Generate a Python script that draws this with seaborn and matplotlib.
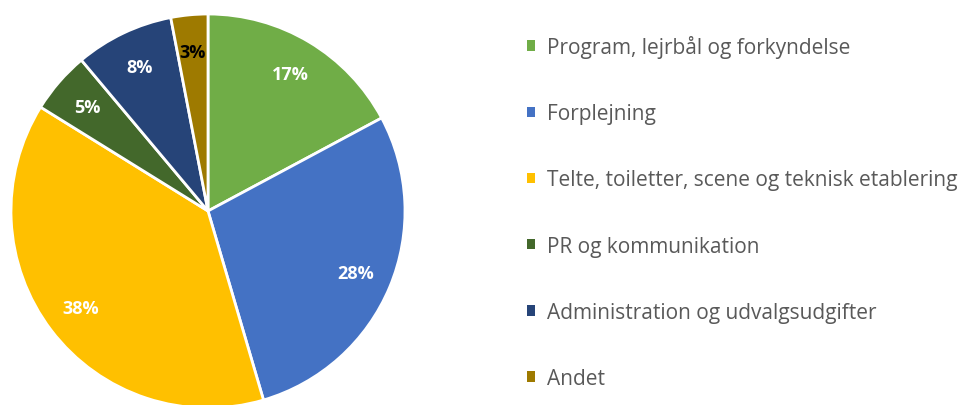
import matplotlib
matplotlib.use("Agg")
from matplotlib import pyplot as plt
from matplotlib.patches import Patch
import seaborn as sns

# data
categories = ["Program, lejrbål og forkyndelse", "Forplejning",
              "Telte, toiletter, scene og teknisk etablering",
              "PR og kommunikation", "Administration og udvalgsudgifter", "Andet"]
shares = [17, 28, 38, 5, 8, 3]
colors = ["#70AD47", "#4472C4", "#FFC000", "#43682B", "#264478", "#9E7A00"]
label_colors = ["white", "white", "white", "white", "white", "black"]

sns.set_theme(style="white")
plt.rcParams['font.family'] = ['Open Sans', 'DejaVu Sans']

fig = plt.figure(figsize=(9.7, 4.06), dpi=100)
ax = fig.add_axes([11 / 970, -3 / 406, 394 / 970, 394 / 406])

palette = sns.color_palette(colors)
wedges, texts, autotexts = ax.pie(
    shares, colors=palette, startangle=90, counterclock=False,
    autopct='%.0f%%', pctdistance=0.81,
    wedgeprops=dict(edgecolor="white", linewidth=2),
    textprops=dict(fontsize=13, fontweight="bold"))
for t, c in zip(autotexts, label_colors):
    t.set_color(c)
ax.set_xlim(-1, 1)
ax.set_ylim(-1, 1)
ax.set_aspect("equal")
ax.axis("off")

handles = [Patch(facecolor=c, edgecolor="none") for c in colors]
leg = fig.legend(handles, categories, loc="upper left",
                 bbox_to_anchor=(527 / 970, 1 - 36 / 406),
                 frameon=False, fontsize=15, labelspacing=2.17,
                 handlelength=0.4, handleheight=0.4, handletextpad=0.55,
                 borderaxespad=0, borderpad=0)
for t in leg.get_texts():
    t.set_color("#595959")

fig.savefig("out.png", dpi=100)
